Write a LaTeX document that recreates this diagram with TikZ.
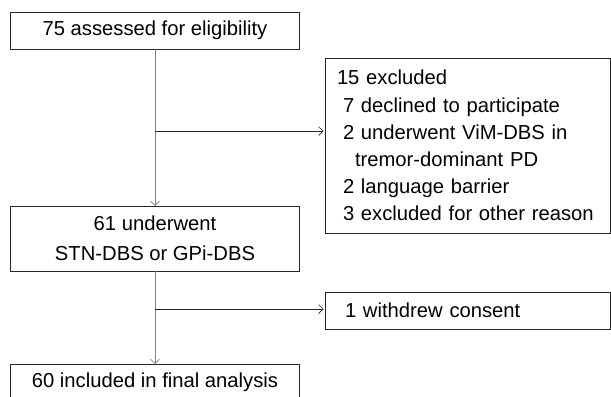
\documentclass[tikz,border=0pt]{standalone}
\usepackage{fontspec}
\setmainfont{Liberation Sans}
\usetikzlibrary{arrows.meta}
\begin{document}
\begin{tikzpicture}[x=1bp,y=-1bp,
  box/.style={draw=black!85,line width=1bp,rectangle,inner sep=0pt,outer sep=0pt,
    font=\fontsize{20.3}{27.2}\selectfont},
  vline/.style={draw=black!50,line width=0.9bp,-{Straight Barb[length=4.5bp,width=9bp,line width=0.7bp]}},
  hline/.style={draw=black!85,line width=0.8bp,-{Straight Barb[length=4.5bp,width=9bp,line width=0.7bp]},shorten >=1.5bp}]
\useasboundingbox (0,0) rectangle (611,396);
\node[box,minimum width=288bp,minimum height=37bp] (b1) at (155,30.5) {75 assessed for eligibility};
\node[box,minimum width=288bp,minimum height=65bp,align=center,font=\fontsize{20.3}{30}\selectfont] (b2) at (155,238.5) {61 underwent\\STN-DBS or GPi-DBS};
\node[box,minimum width=288bp,minimum height=37bp] (b3) at (155,382.5) {60 included in final analysis};
\node[box,minimum width=285bp,minimum height=175bp,text width=261bp,align=left] (ex) at (467.5,145.5) {15 excluded\\
\hspace*{6bp}7 declined to participate\\
\hspace*{6bp}2 underwent ViM-DBS in\\
\hspace*{18bp}tremor-dominant PD\\
\hspace*{6bp}2 language barrier\\
\hspace*{6bp}3 excluded for other reason};
\node[box,minimum width=285bp,minimum height=37bp,text width=245bp,align=left] (wd) at (467.5,310.5) {1 withdrew consent};
\coordinate (j1) at (155,131);
\coordinate (j2) at (155,309);
\draw[vline] (b1.south) -- (b2.north);
\draw[vline] (b2.south) -- (b3.north);
\draw[hline] (j1) -- (j1 -| ex.west);
\draw[hline] (j2) -- (j2 -| wd.west);
\end{tikzpicture}
\end{document}
